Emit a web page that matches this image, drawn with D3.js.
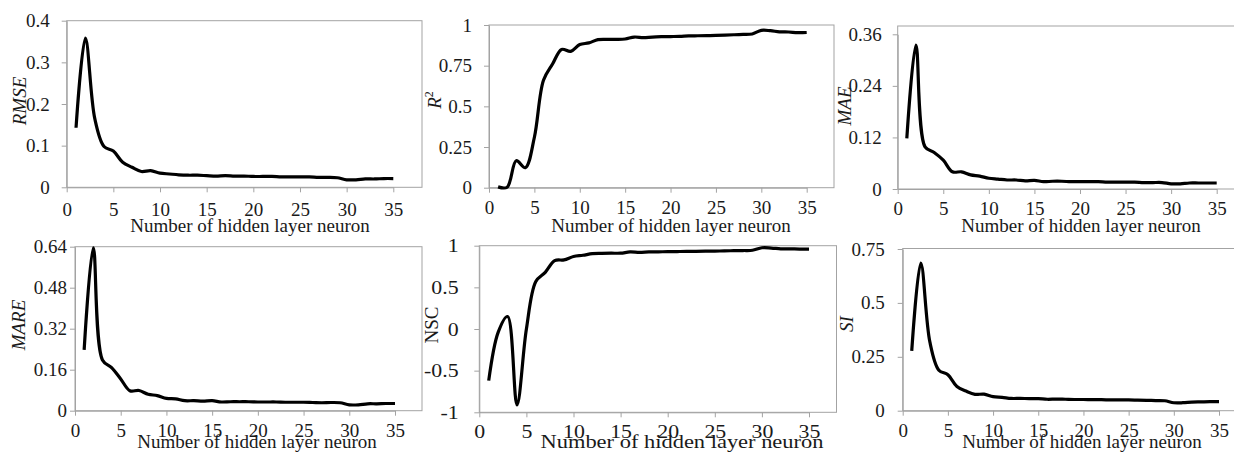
<!DOCTYPE html>
<html>
<head>
<meta charset="utf-8">
<script src="https://cdn.jsdelivr.net/npm/d3@7"></script>
<style>
  html, body { margin: 0; padding: 0; background: #fff; }
  svg { display: block; }
  svg text { font-family: "Liberation Serif", "Times New Roman", serif !important; }
</style>
</head>
<body>
<svg id="chart" width="1234" height="457"></svg>
<script>
// ---- data ----
const neurons = [1,2,3,4,5,6,7,8,9,10,11,12,13,14,15,16,17,18,19,20,21,22,23,24,25,26,27,28,29,30,31,32,33,34,35];
const xTicks = [0,5,10,15,20,25,30,35];

const rmse = [0.143,0.358,0.166,0.098,0.087,0.060,0.048,0.038,0.040,0.034,0.032,0.030,0.029,0.029,0.028,0.027,0.028,0.027,0.027,0.026,0.026,0.026,0.025,0.025,0.025,0.025,0.024,0.024,0.023,0.018,0.018,0.020,0.020,0.021,0.021];
const r2   = [0.005,0.003,0.166,0.123,0.310,0.660,0.760,0.850,0.838,0.880,0.890,0.910,0.912,0.912,0.914,0.926,0.922,0.926,0.928,0.929,0.930,0.933,0.934,0.935,0.936,0.938,0.940,0.942,0.945,0.967,0.965,0.958,0.957,0.953,0.954];
const mae  = [0.118,0.335,0.098,0.085,0.067,0.040,0.040,0.033,0.030,0.025,0.023,0.021,0.021,0.019,0.020,0.017,0.018,0.018,0.017,0.017,0.017,0.017,0.016,0.016,0.016,0.016,0.015,0.015,0.015,0.012,0.012,0.014,0.014,0.014,0.014];
const mare = [0.237,0.636,0.198,0.168,0.124,0.078,0.079,0.064,0.059,0.048,0.046,0.039,0.039,0.037,0.039,0.034,0.035,0.035,0.035,0.034,0.034,0.034,0.033,0.033,0.033,0.032,0.031,0.032,0.031,0.023,0.023,0.027,0.027,0.028,0.028];
const nsc  = [-0.62,-0.04,0.15,-0.91,0.00,0.57,0.68,0.82,0.83,0.87,0.885,0.905,0.908,0.910,0.910,0.925,0.920,0.925,0.927,0.928,0.930,0.932,0.933,0.934,0.935,0.938,0.940,0.942,0.945,0.975,0.972,0.963,0.962,0.960,0.960];
const si   = [0.277,0.685,0.320,0.188,0.167,0.112,0.091,0.076,0.077,0.065,0.062,0.057,0.057,0.056,0.056,0.053,0.054,0.053,0.052,0.052,0.051,0.051,0.050,0.050,0.050,0.049,0.048,0.047,0.046,0.037,0.037,0.040,0.041,0.042,0.042];

const rmseTicks = [0,0.1,0.2,0.3,0.4];
const r2Ticks   = [0,0.25,0.5,0.75,1];
const maeTicks  = [0,0.12,0.24,0.36];
const mareTicks = [0,0.16,0.32,0.48,0.64];
const nscTicks  = [-1,-0.5,0,0.5,1];
const siTicks   = [0,0.25,0.5,0.75];

const xTitle = "Number of hidden layer neuron";

// ---- layout (pixel positions of each panel) ----
const panels = [
  {values: rmse, ticks: rmseTicks, yDom:[0,0.4],  yPx:[187.3,20.7], top:20.7, x0:66.7, x35:393.3, right:422,
   pad:12, xpad:10, title:"RMSE", italic:true, tx:26, ty:101, xtCx:250, xtY:232, sx:1},
  {values: r2, ticks: r2Ticks, yDom:[0,1], yPx:[187.7,25], top:25, x0:489, x35:806.7, right:834,
   pad:12, xpad:8, title:"R2", italic:true, tx:441, ty:100, xtCx:671, xtY:232, sx:1},
  {values: mae, ticks: maeTicks, yDom:[0,0.36], yPx:[189,34.3], top:26, x0:897.7, x35:1216.7, right:1245,
   pad:11, xpad:8, title:"MAE", italic:true, tx:851, ty:106, xtCx:1081, xtY:232, sx:1},
  {values: mare, ticks: mareTicks, yDom:[0,0.64], yPx:[410.7,246.7], top:246.7, x0:75, x35:395, right:422,
   pad:3, xpad:8, title:"MARE", italic:true, tx:25, ty:325, xtCx:257, xtY:448, sx:1},
  {values: nsc, ticks: nscTicks, yDom:[-1,1], yPx:[412.3,245.7], top:245.7, x0:479.3, x35:809, right:836.5,
   pad:13, xpad:7, title:"NSC", italic:false, tx:438, ty:325, xtCx:682, xtY:448, sx:1.15},
  {values: si, ticks: siTicks, yDom:[0,0.75], yPx:[410.7,249], top:248.5, x0:902.7, x35:1219, right:1245,
   pad:13, xpad:8, title:"SI", italic:true, tx:853, ty:324, xtCx:1082, xtY:448, sx:1}
];

const svg = d3.select("#chart");
svg.append("rect").attr("width",1234).attr("height",457).attr("fill","#fff");

const GRAY = "#a3a3a3";
const FS = 19;

panels.forEach(p => {
  const g = svg.append("g");
  const x = d3.scaleLinear().domain([0,35]).range([p.x0, p.x35]);
  const y = d3.scaleLinear().domain(p.yDom).range(p.yPx);
  const bottom = y(p.yDom[0]);

  // plot-area border
  g.append("rect")
    .attr("x", p.x0).attr("y", p.top)
    .attr("width", p.right - p.x0).attr("height", bottom - p.top)
    .attr("fill", "none").attr("stroke", GRAY).attr("stroke-width", 1);

  // y axis
  const ya = g.append("g").attr("transform", `translate(${p.x0},0)`)
    .call(d3.axisLeft(y).tickValues(p.ticks).tickFormat(d => String(d))
      .tickSize(5).tickSizeOuter(0).tickPadding(p.pad));
  ya.attr("font-family", null);
  ya.select(".domain").attr("stroke", GRAY);
  ya.selectAll(".tick line").attr("stroke", GRAY);
  ya.selectAll(".tick text").attr("font-size", FS).attr("fill", "#1a1a1a")
    .style("font-family", "'Liberation Serif', serif")
    .attr("transform", p.sx !== 1 ? `scale(${p.sx},1)` : null);

  // x axis
  const xa = g.append("g").attr("transform", `translate(0,${bottom})`)
    .call(d3.axisBottom(x).tickValues(xTicks).tickFormat(d => String(d))
      .tickSize(5).tickSizeOuter(0).tickPadding(p.xpad));
  xa.attr("font-family", null);
  xa.select(".domain").attr("stroke", GRAY);
  xa.selectAll(".tick line").attr("stroke", GRAY);
  xa.selectAll(".tick text").attr("font-size", FS).attr("fill", "#1a1a1a")
    .style("font-family", "'Liberation Serif', serif")
    .attr("transform", p.sx !== 1 ? `scale(${p.sx},1)` : null);

  // curve
  const line = d3.line()
    .x((d, i) => x(neurons[i]))
    .y(d => y(d))
    .curve(d3.curveCatmullRom.alpha(0.5));
  g.append("path")
    .datum(p.values)
    .attr("d", line)
    .attr("fill", "none")
    .attr("stroke", "#000")
    .attr("stroke-width", 3.2)
    .attr("stroke-linejoin", "round")
    .attr("stroke-linecap", "butt");

  // y title
  const yt = g.append("text")
    .attr("transform", `translate(${p.tx},${p.ty}) rotate(-90)`)
    .attr("text-anchor", "middle")
    .attr("font-size", FS)
    .attr("fill", "#1a1a1a")
    .attr("font-style", p.italic ? "italic" : "normal");
  if (p.title === "R2") {
    yt.append("tspan").text("R");
    yt.append("tspan").attr("font-size", 12).attr("font-style", "normal")
      .attr("dy", -8).text("2");
  } else {
    yt.text(p.title);
  }

  // x title
  const xt = g.append("text")
    .attr("x", p.xtCx).attr("y", p.xtY)
    .attr("text-anchor", "middle")
    .attr("font-size", FS)
    .attr("fill", "#1a1a1a")
    .text(xTitle);
  if (p.sx !== 1) {
    xt.attr("textLength", 283).attr("lengthAdjust", "spacingAndGlyphs")
      .attr("x", p.xtCx - 141.5).attr("text-anchor", "start");
  }
});
</script>
</body>
</html>
